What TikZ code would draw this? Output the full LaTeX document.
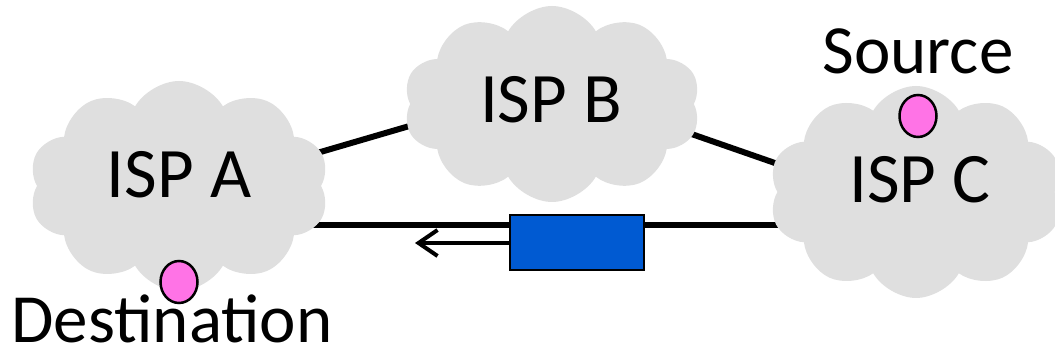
\documentclass[tikz,border=0pt]{standalone}
\usepackage{fontspec}
\setmainfont{Carlito}
\usetikzlibrary{shapes.symbols,shapes.geometric,arrows.meta}
\definecolor{cloudgray}{HTML}{DFDFDF}
\definecolor{hostpink}{HTML}{FF73E6}
\definecolor{pktblue}{HTML}{005AD2}
\tikzset{
  ispcloud/.style={cloud, cloud puffs=10, cloud puff arc=120, fill=cloudgray, draw=none, inner sep=0pt},
  isplabel/.style={anchor=base, inner sep=0pt, font=\fontsize{71}{80}\selectfont},
  hostlabel/.style={anchor=base, inner sep=0pt, font=\fontsize{69}{78}\selectfont},
  host/.style={ellipse, fill=hostpink, draw=black, line width=2.5pt, minimum width=37pt, minimum height=42pt, inner sep=0pt},
  link/.style={line width=6pt, black},
  packet/.style={rectangle, fill=pktblue, draw=black, line width=2.5pt, minimum width=134pt, minimum height=55pt, inner sep=0pt},
}
\begin{document}
\begin{tikzpicture}[x=1pt,y=-1pt]
\useasboundingbox (0,0) rectangle (1055,352);
% link end points
\coordinate (ab1) at (300,158);
\coordinate (ab2) at (430,120);
\coordinate (bc1) at (680,130);
\coordinate (bc2) at (795,170);
\coordinate (ac1) at (290,225);
\coordinate (ac2) at (800,225);
\draw[link] (ab1) -- (ab2);
\draw[link] (bc1) -- (bc2);
\draw[link] (ac1) -- (ac2);
% clouds
\node[ispcloud, minimum width=300pt, minimum height=210pt] (cA) at (179,186) {};
\node[ispcloud, minimum width=297pt, minimum height=196pt] (cB) at (552,104) {};
\node[ispcloud, minimum width=294pt, minimum height=212pt] (cC) at (916,192) {};
\node[isplabel] (tA) at (179,198) {ISP A};
\node[isplabel] (tB) at (551,123) {ISP B};
\node[isplabel] (tC) at (920,203) {ISP C};
% packet
\node[packet] (pkt) at (577,242.5) {};
\coordinate (arrend) at (415,243);
\draw[line width=4pt, -{Straight Barb[length=19pt,width=26pt,line width=4pt]}] (pkt.west |- arrend) -- (arrend);
% hosts
\node[host] (src) at (918,116) {};
\node[host] (dst) at (179,282) {};
\node[hostlabel] (tsrc) at (918,74) {Source};
\node[hostlabel] (tdst) at (172,343) {Destination};
\end{tikzpicture}
\end{document}
